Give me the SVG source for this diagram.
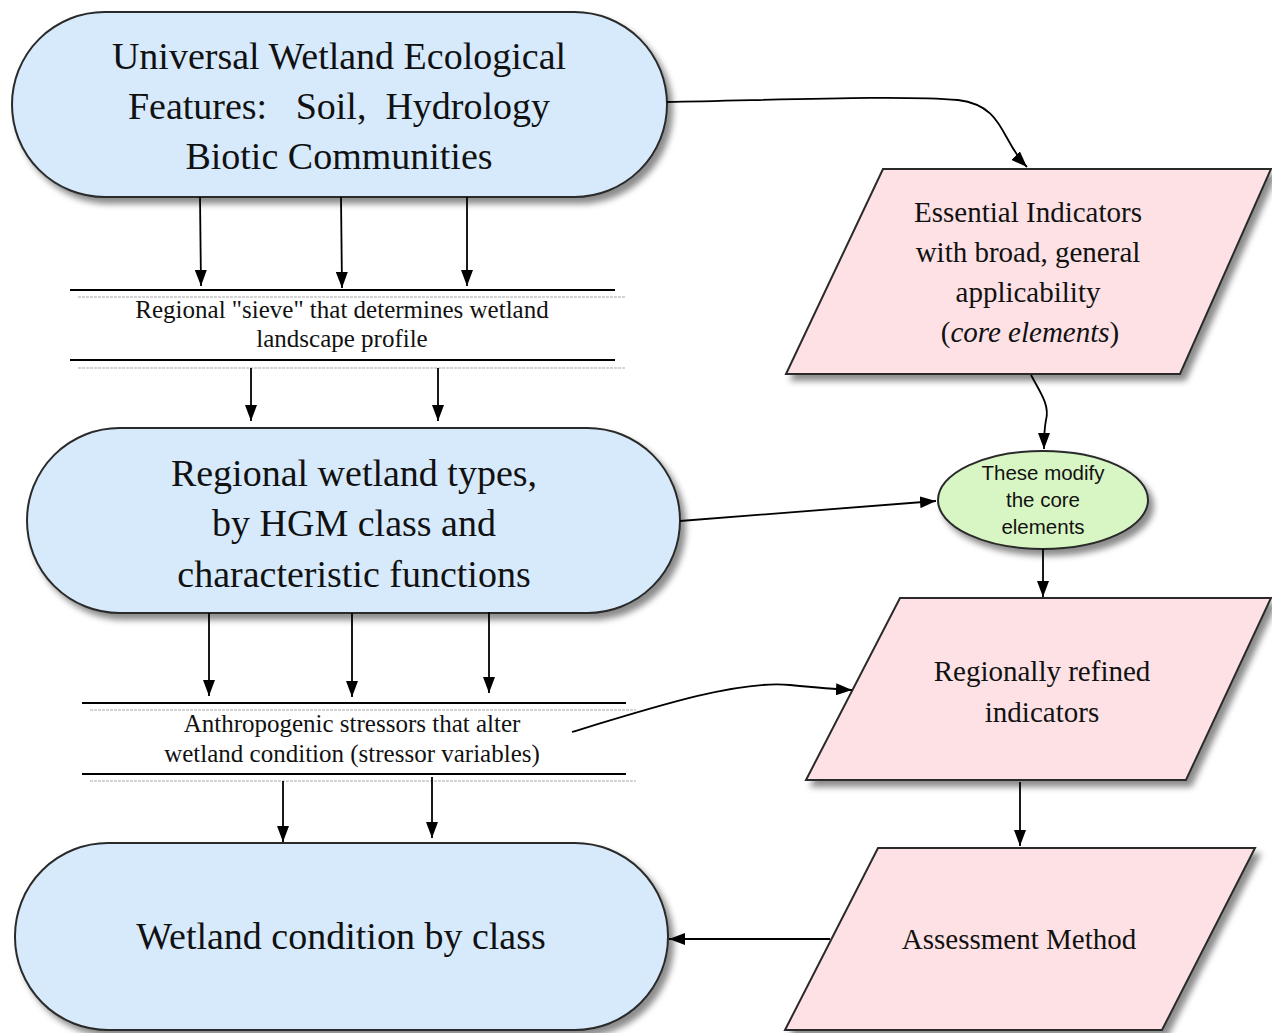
<svg xmlns="http://www.w3.org/2000/svg" width="1272" height="1033" viewBox="0 0 1272 1033">
<defs>
<filter id="sh" x="-10%" y="-10%" width="130%" height="130%">
<feDropShadow dx="5" dy="6" stdDeviation="3" flood-color="#000" flood-opacity="0.45"/>
</filter>
<marker id="ah" viewBox="0 0 16 12" refX="16" refY="6" markerWidth="16" markerHeight="12" markerUnits="userSpaceOnUse" orient="auto">
<path d="M0,0 L16,6 L0,12 Z" fill="#000"/>
</marker>
</defs>
<style>
.term{fill:#d6eafc;stroke:#2a2a2a;stroke-width:2;filter:url(#sh)}
.para{fill:#fde1e5;stroke:#2a2a2a;stroke-width:2;filter:url(#sh)}
.ell{fill:#d8f6c4;stroke:#2a2a2a;stroke-width:2;filter:url(#sh)}
.serif{font-family:"Liberation Serif","Times New Roman",serif;fill:#111;text-anchor:middle}
.sans{font-family:"Liberation Sans",Arial,sans-serif;fill:#111;text-anchor:middle}
.bar{stroke:#000;stroke-width:2}
.barsh{stroke:#d4d4d4;stroke-width:2;stroke-dasharray:3 1}
.conn{fill:none;stroke:#000;stroke-width:1.8;marker-end:url(#ah)}
</style>
<rect width="1272" height="1033" fill="#fff"/>

<g id="universal">
<rect class="term" x="12" y="12" width="655" height="185" rx="92.5"/>
<text class="serif" font-size="38" x="339" y="69">Universal Wetland Ecological</text>
<text class="serif" font-size="38" x="339" y="119" xml:space="preserve">Features:   Soil,  Hydrology</text>
<text class="serif" font-size="38" x="339" y="169">Biotic Communities</text>
</g>

<g id="sieve">
<line class="barsh" x1="78" y1="297" x2="625" y2="297"/>
<line class="bar" x1="70" y1="290" x2="615" y2="290"/>
<line class="barsh" x1="78" y1="368" x2="625" y2="368"/>
<line class="bar" x1="70" y1="360" x2="615" y2="360"/>
<text class="serif" font-size="25" x="342" y="318">Regional "sieve" that determines wetland</text>
<text class="serif" font-size="25" x="342" y="347">landscape profile</text>
</g>

<g id="regional">
<rect class="term" x="27" y="428" width="653" height="185" rx="92.5"/>
<text class="serif" font-size="38" x="354" y="486">Regional wetland types,</text>
<text class="serif" font-size="38" x="354" y="536">by HGM class and</text>
<text class="serif" font-size="38" x="354" y="587">characteristic functions</text>
</g>

<g id="stressors">
<line class="barsh" x1="90" y1="710" x2="636" y2="710"/>
<line class="bar" x1="82" y1="703" x2="626" y2="703"/>
<line class="barsh" x1="90" y1="781" x2="636" y2="781"/>
<line class="bar" x1="82" y1="774" x2="626" y2="774"/>
<text class="serif" font-size="25" x="352" y="732">Anthropogenic stressors that alter</text>
<text class="serif" font-size="25" x="352" y="762">wetland condition (stressor variables)</text>
</g>

<g id="condition">
<rect class="term" x="15" y="843" width="653" height="187" rx="93"/>
<text class="serif" font-size="38" x="341" y="949">Wetland condition by class</text>
</g>

<g id="essential">
<polygon class="para" points="883,169 1271,169 1180,374 786,374"/>
<text class="serif" font-size="29" x="1028" y="222">Essential Indicators</text>
<text class="serif" font-size="29" x="1028" y="262">with broad, general</text>
<text class="serif" font-size="29" x="1028" y="302">applicability</text>
<text class="serif" font-size="29" x="1030" y="342">(<tspan font-style="italic">core elements</tspan>)</text>
</g>

<g id="modify">
<ellipse class="ell" cx="1043" cy="500" rx="105" ry="49"/>
<text class="sans" font-size="20.5" x="1043" y="480">These modify</text>
<text class="sans" font-size="20.5" x="1043" y="507">the core</text>
<text class="sans" font-size="20.5" x="1043" y="534">elements</text>
</g>

<g id="refined">
<polygon class="para" points="900,598 1271,598 1186,780 806,780"/>
<text class="serif" font-size="29" x="1042" y="681">Regionally refined</text>
<text class="serif" font-size="29" x="1042" y="722">indicators</text>
</g>

<g id="assessment">
<polygon class="para" points="878,848 1255,848 1162,1030 785,1030"/>
<text class="serif" font-size="29" x="1019" y="949">Assessment Method</text>
</g>

<g id="connectors">
<line class="conn" x1="200" y1="197" x2="201" y2="286"/>
<line class="conn" x1="341" y1="197" x2="342" y2="288"/>
<line class="conn" x1="467" y1="197" x2="467" y2="286"/>
<line class="conn" x1="251" y1="368" x2="251" y2="421"/>
<line class="conn" x1="438" y1="368" x2="438" y2="421"/>
<line class="conn" x1="209" y1="613" x2="209" y2="696"/>
<line class="conn" x1="352" y1="613" x2="352" y2="697"/>
<line class="conn" x1="489" y1="612" x2="489" y2="693"/>
<line class="conn" x1="283" y1="781" x2="283" y2="842"/>
<line class="conn" x1="432" y1="777" x2="432" y2="838"/>
<path class="conn" d="M667,102 C780,100 900,95 958,100 C1005,106 1000,140 1027,167"/>
<path class="conn" d="M1031,375 C1040,392 1050,405 1046,420 C1044,430 1044,440 1044,449"/>
<line class="conn" x1="680" y1="521" x2="936" y2="501"/>
<line class="conn" x1="1043" y1="549" x2="1043" y2="597"/>
<path class="conn" d="M572,732 C660,705 740,680 790,685 C810,687 830,689 852,690"/>
<line class="conn" x1="1020" y1="782" x2="1020" y2="846"/>
<line class="conn" x1="830" y1="939" x2="669" y2="939"/>
</g>
</svg>
